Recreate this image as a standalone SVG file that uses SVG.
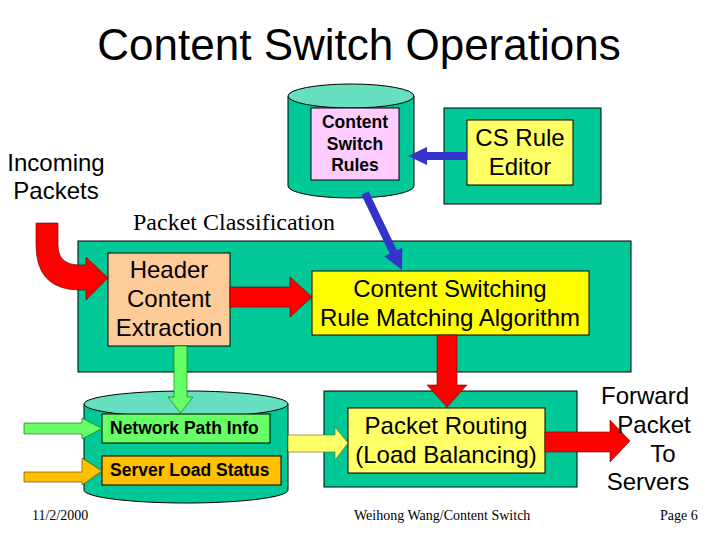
<svg xmlns="http://www.w3.org/2000/svg" width="720" height="540" viewBox="0 0 720 540">
<style>
.sans{font-family:"Liberation Sans",Arial,sans-serif;fill:#000}
.serif{font-family:"Liberation Serif","Times New Roman",serif;fill:#000}
.big{font-size:24px}
.bold{font-size:17.5px;font-weight:bold}
.foot{font-size:14px}
.grn{fill:#00C896;stroke:#000;stroke-width:1}
.top{fill:#66E0C0;stroke:#000;stroke-width:1}
.box{stroke:#000;stroke-width:1}
.red{fill:#FF0000;stroke:#600;stroke-width:0.6}
.blue{fill:#3333CC;stroke:none}
</style>
<rect width="720" height="540" fill="#fff"/>
<text class="sans" x="359" y="60" font-size="44" text-anchor="middle">Content Switch Operations</text>

<g id="incoming-label">
<text class="sans big" x="56" y="171" text-anchor="middle">Incoming</text>
<text class="sans big" x="56" y="199" text-anchor="middle">Packets</text>
</g>

<g id="rules-db">
<path class="grn" d="M288,96 L288,186 A63,12 0 0 0 414,186 L414,96 Z"/>
<ellipse class="top" cx="351" cy="96" rx="63" ry="12"/>
<rect class="box" x="311" y="108" width="88" height="72" fill="#FFCCFF"/>
<text class="sans bold" x="355" y="128" text-anchor="middle">Content</text>
<text class="sans bold" x="355" y="150" text-anchor="middle">Switch</text>
<text class="sans bold" x="355" y="171" text-anchor="middle">Rules</text>
</g>

<g id="rule-editor">
<rect class="grn" x="444" y="108" width="157" height="96"/>
<rect class="box" x="467" y="120" width="106" height="65" fill="#FFFF66"/>
<text class="sans big" x="520" y="146" text-anchor="middle">CS Rule</text>
<text class="sans big" x="520" y="175" text-anchor="middle">Editor</text>
</g>

<text class="serif" x="133" y="230" font-size="24">Packet Classification</text>

<g id="classification">
<rect class="grn" x="78" y="241" width="553" height="131"/>
</g>

<g id="header-extraction">
<rect class="box" x="108" y="253" width="122" height="93" fill="#FFCC99"/>
<text class="sans big" x="169" y="278" text-anchor="middle">Header</text>
<text class="sans big" x="169" y="307" text-anchor="middle">Content</text>
<text class="sans big" x="169" y="336" text-anchor="middle">Extraction</text>
</g>

<g id="rule-matching">
<rect class="box" x="312" y="271" width="277" height="64" fill="#FFFF00"/>
<text class="sans big" x="450" y="297" text-anchor="middle">Content Switching</text>
<text class="sans big" x="450" y="326" text-anchor="middle">Rule Matching Algorithm</text>
</g>

<g id="status-db">
<path class="grn" d="M84,404 L84,490 A102,13 0 0 0 288,490 L288,404 Z"/>
<ellipse class="top" cx="186" cy="404" rx="102" ry="13"/>
<rect class="box" x="102" y="414" width="168" height="29" fill="#66FF66"/>
<text class="sans bold" x="110" y="434">Network Path Info</text>
<rect class="box" x="102" y="456" width="179" height="29" fill="#FFC000"/>
<text class="sans bold" x="110" y="476">Server Load Status</text>
</g>

<g id="packet-routing">
<rect class="grn" x="324" y="391" width="253" height="96"/>
<rect class="box" x="348" y="408" width="197" height="65" fill="#FFFF66"/>
<text class="sans big" x="446" y="434" text-anchor="middle">Packet Routing</text>
<text class="sans big" x="446" y="463" text-anchor="middle">(Load Balancing)</text>
</g>

<g id="connectors">
<polygon class="blue" points="467,152 427,152 427,147 408,156 427,165 427,160 467,160"/>
<polygon class="blue" points="361.4,194.7 389.7,253.7 384.3,256.3 402,270 402.3,247.7 396.9,250.3 368.6,191.3"/>
<path class="red" d="M36,223 L58,223 L58,245 Q58,265 80,265 L86,265 L86,257 L108,278 L86,300 L86,290 L80,290 Q36,290 36,245 Z"/>
<polygon class="red" points="230,287 290,287 290,277 312,297 290,317 290,307 230,307"/>
<polygon class="red" points="437,335 457,335 457,385 467,385 447,407 427,385 437,385"/>
<polygon class="red" points="545,432 610,432 610,420 630,441 610,462 610,452 545,452"/>
<polygon fill="#66FF66" stroke="#060" stroke-width="0.6" points="174,346 187,346 187,397 193,397 180.5,413 168,397 174,397"/>
<polygon fill="#66FF66" stroke="#060" stroke-width="0.6" points="24,423 82,423 82,418 102,428.5 82,439 82,434 24,434"/>
<polygon fill="#FFC000" stroke="#630" stroke-width="0.6" points="24,472 82,472 82,458 102,471 82,485 82,482 24,482"/>
<polygon fill="#FFFF66" stroke="#660" stroke-width="0.6" points="288,435 335,435 335,427 348,443 335,460 335,452 288,452"/>
</g>

<g id="forward-label">
<text class="sans big" x="645" y="404" text-anchor="middle">Forward</text>
<text class="sans big" x="654" y="433" text-anchor="middle">Packet</text>
<text class="sans big" x="663" y="462" text-anchor="middle">To</text>
<text class="sans big" x="648" y="490" text-anchor="middle">Servers</text>
</g>

<text class="serif foot" x="32" y="520">11/2/2000</text>
<text class="serif foot" x="354" y="520">Weihong Wang/Content Switch</text>
<text class="serif foot" x="660" y="520">Page 6</text>
</svg>
